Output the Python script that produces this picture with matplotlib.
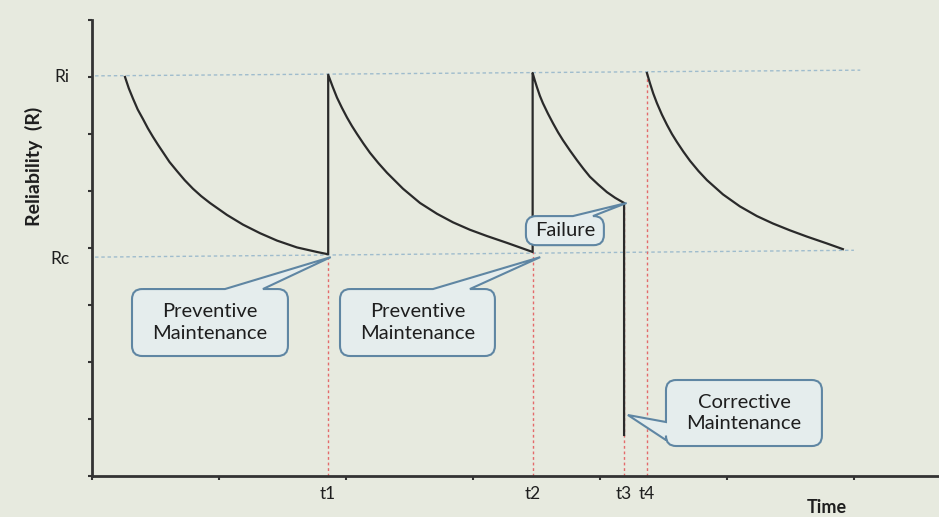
import matplotlib.pyplot as plt, numpy as np
from matplotlib.path import Path
from matplotlib.patches import PathPatch

plt.rcParams.update({'font.family': ['Lato', 'DejaVu Sans'], 'figure.dpi': 100})
BG = '#e7eadf'; INK = '#2a2a2a'; BLUE_DASH = '#9fbccd'; RED_DASH = '#e46a6a'
EDGE = '#5f86a3'; FILL = '#e5eded'

# ---- data (time in arbitrary units, reliability in %-like units) ----
curve1_t = [2.6, 2.9, 3.23, 3.6, 4.02, 4.40, 4.80, 5.20, 5.59, 6.10, 6.69, 7.30, 7.95, 8.60, 9.29,
            10.63, 11.89, 13.23, 14.57, 16.14, 17.72, 18.6]
curve1_r = [70.0, 68.0, 66.2, 64.3, 62.6, 61.0, 59.5, 58.1, 56.8, 55.1, 53.5, 51.9, 50.4, 49.1, 47.9,
            45.8, 44.1, 42.6, 41.3, 40.1, 39.3, 38.9]
curve2_t = [18.6, 18.95, 19.29, 19.68, 20.08, 20.47, 20.87, 21.38, 21.89, 22.55, 23.23, 24.49, 25.83,
            27.17, 28.43, 29.76, 31.10, 32.68, 34.7]
curve2_r = [70.4, 68.3, 66.4, 64.6, 62.9, 61.4, 60.0, 58.3, 56.7, 54.9, 53.2, 50.4, 47.9,
            46.0, 44.5, 43.2, 42.1, 40.9, 39.3]
curve3_t = [34.7, 34.87, 35.04, 35.27, 35.51, 35.90, 36.30, 36.70, 37.09, 37.64, 38.19, 38.70, 39.21,
            39.88, 40.55, 41.20, 41.9, 41.9]
curve3_r = [70.7, 69.4, 68.2, 66.7, 65.4, 63.6, 61.9, 60.3, 58.9, 57.1, 55.4, 53.9, 52.5,
            51.1, 49.8, 48.8, 47.9, 7.2]   # last point: drop at failure
curve4_t = [43.7, 43.82, 43.94, 44.20, 44.49, 44.88, 45.28, 45.67, 46.06, 46.57, 47.09, 47.76, 48.43,
            49.69, 51.02, 52.36, 53.62, 54.96, 56.30, 57.87, 59.13]
curve4_r = [70.7, 69.8, 68.9, 67.1, 65.4, 63.4, 61.6, 60.0, 58.6, 56.9, 55.3, 53.5, 51.9,
            49.4, 47.3, 45.6, 44.3, 43.1, 42.0, 40.8, 39.8]

t_events = [18.6, 34.7, 41.9, 43.7]
t_labels = ['t1', 't2', 't3', 't4']
t_event_top = [38.9, 39.3, 47.9, 70.7]

ri_line_t = [0.24, 60.5]; ri_line_r = [70.2, 71.2]
rc_line_t = [0.24, 60.0]; rc_line_r = [38.4, 39.6]
r_ticks = [70.2, 38.4]; r_labels = ['Ri', 'Rc']

fig = plt.figure(figsize=(9.39, 5.17), facecolor=BG)
ax = fig.add_axes([92/939, 41/517, 847/939, 456/517], facecolor=BG)
ax.set_xlim(0, 66.7); ax.set_ylim(0, 80)

ax.plot(ri_line_t, ri_line_r, color=BLUE_DASH, lw=1, ls=(0, (2.5, 2)))
ax.plot(rc_line_t, rc_line_r, color=BLUE_DASH, lw=1, ls=(0, (2.5, 2)))
for t, top in zip(t_events, t_event_top):
    ax.plot([t, t], [0, top], color=RED_DASH, lw=1, ls=(0, (2, 2)))

main_t = curve1_t + curve2_t + curve3_t
main_r = curve1_r + curve2_r + curve3_r
ax.plot(main_t, main_r, color=INK, lw=1.6, solid_joinstyle='round')
ax.plot(curve4_t, curve4_r, color=INK, lw=1.6, solid_joinstyle='round')

def callout(x0, y0, x1, y1, side, b0, b1, tip, text):
    rx, ry = 0.8, 1.8
    P = Path
    v = [(x0+rx, y1)]; c = [P.MOVETO]
    if side == 'top':
        v += [(b0, y1), tip, (b1, y1)]; c += [P.LINETO]*3
    v += [(x1-rx, y1), (x1, y1), (x1, y1-ry)]; c += [P.LINETO, P.CURVE3, P.CURVE3]
    v += [(x1, y0+ry), (x1, y0), (x1-rx, y0)]; c += [P.LINETO, P.CURVE3, P.CURVE3]
    v += [(x0+rx, y0), (x0, y0), (x0, y0+ry)]; c += [P.LINETO, P.CURVE3, P.CURVE3]
    if side == 'left':
        v += [(x0, b0), tip, (x0, b1)]; c += [P.LINETO]*3
    v += [(x0, y1-ry), (x0, y1), (x0+rx, y1)]; c += [P.LINETO, P.CURVE3, P.CURVE3]
    ax.add_patch(PathPatch(Path(v, c), fc=FILL, ec=EDGE, lw=1.5, zorder=4))
    ax.text((x0+x1)/2, (y0+y1)/2, text, ha='center', va='center', fontsize=14.5,
            color='#1e1e1e', linespacing=1.3, zorder=5)

callout(3.15, 21.05, 15.43, 32.8, 'top', 10.47, 13.46, (18.8, 38.4), 'Preventive\nMaintenance')
callout(19.53, 21.05, 31.73, 32.8, 'top', 26.85, 29.76, (35.3, 38.4), 'Preventive\nMaintenance')
callout(34.17, 40.5, 40.31, 45.6, 'top', 37.87, 39.45, (42.1, 47.9), 'Failure')
callout(45.2, 5.26, 57.48, 16.84, 'left', 6.3, 9.47, (42.2, 10.7), 'Corrective\nMaintenance')

for s in ['top', 'right']:
    ax.spines[s].set_visible(False)
for s in ['left', 'bottom']:
    ax.spines[s].set_color('#333333'); ax.spines[s].set_linewidth(2)

ax.set_xticks(np.arange(0, 61, 10)); ax.set_yticks(np.arange(0, 81, 10))
ax.tick_params(which='major', direction='out', length=3, width=1.5, color='#333333',
               labelbottom=False, labelleft=False)
ax.set_xticks(t_events, minor=True); ax.set_xticklabels(t_labels, minor=True)
ax.set_yticks(r_ticks, minor=True); ax.set_yticklabels(r_labels, minor=True)
ax.tick_params(axis='x', which='minor', length=0, pad=7, labelsize=12.5, labelcolor='#1e1e1e')
ax.tick_params(axis='y', which='minor', length=0, pad=16, labelsize=12.5, labelcolor='#1e1e1e')

ax.set_ylabel('Reliability  (R)', fontsize=14, fontweight='bold', color='#1e1e1e')
ax.yaxis.set_label_coords(-0.058, 0.68)
ax.set_xlabel('Time', fontsize=13, fontweight='bold', color='#1e1e1e')
ax.xaxis.set_label_coords(0.867, -0.05)

fig.savefig('out.png', dpi=100, facecolor=BG)
